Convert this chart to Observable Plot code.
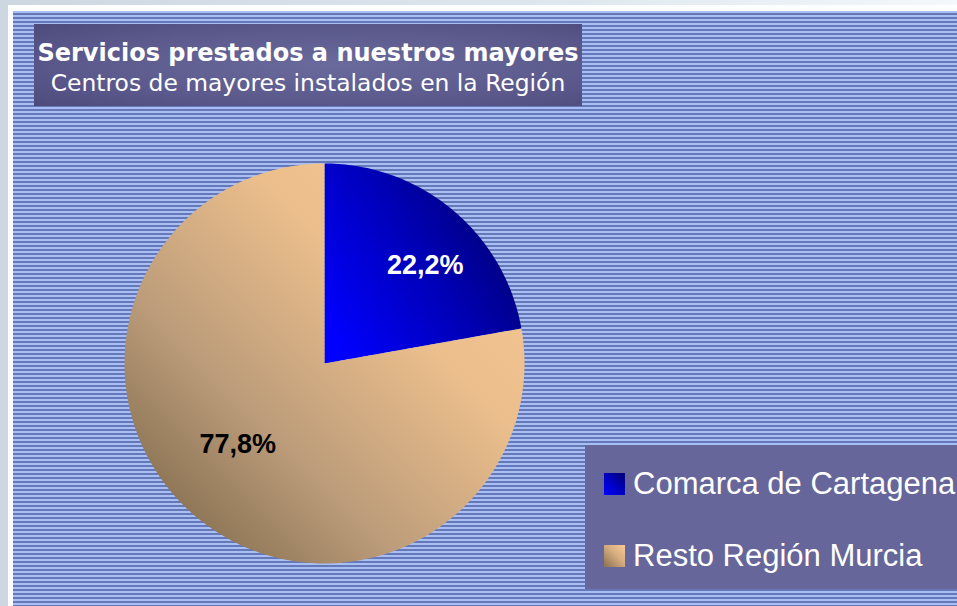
<!DOCTYPE html>
<html><head><meta charset="utf-8">
<script src="https://cdn.jsdelivr.net/npm/d3@7"></script>
<script src="https://cdn.jsdelivr.net/npm/@observablehq/plot@0.6"></script>
<style>
html,body{margin:0;padding:0;width:957px;height:606px;overflow:hidden;background:linear-gradient(to right,#cdd7e1 0%,#dfe7ee 60%,#f4f8fb 100%);}
#frame{position:absolute;left:8px;top:5px;width:949px;height:601px;background:#fdfeff;}
#stripes{position:absolute;left:13px;top:11px;width:944px;height:595px;background:repeating-linear-gradient(to bottom,#a7bff4 0px,#a7bff4 2px,#6678b8 2px,#6678b8 4px);}
#chart{position:absolute;left:0;top:0;width:957px;height:606px;}
#title{position:absolute;left:34px;top:24px;width:548px;height:82px;background:radial-gradient(ellipse at 55% 50%,#6a6a9d 0%,#5c5a8d 60%,#4d4b7b 100%);color:#fff;font-family:"DejaVu Sans",sans-serif;text-align:center;}
#title .l{position:absolute;left:0;width:548px;height:30px;line-height:30px;white-space:nowrap;}
#legend{position:absolute;left:585px;top:445px;width:372px;height:144px;background:#67669a;font-family:"Liberation Sans",Arial,sans-serif;color:#fff;}
#legend .row{position:absolute;left:19px;height:40px;line-height:40px;font-size:31px;white-space:nowrap;}
#legend .sw{display:inline-block;width:21px;height:22px;margin-right:8px;vertical-align:-1px;}
</style></head>
<body>
<svg width="0" height="0" style="position:absolute">
<defs>
<linearGradient id="gBlue" x1="1" y1="0.2" x2="0" y2="0.8">
<stop offset="0" stop-color="#000068"/><stop offset="0.5" stop-color="#0000b8"/><stop offset="1" stop-color="#0000ff"/>
</linearGradient>
<linearGradient id="gTan" x1="1" y1="0" x2="0" y2="1">
<stop offset="0" stop-color="#f7c995"/><stop offset="0.35" stop-color="#ebbe8c"/><stop offset="0.65" stop-color="#bc9c7a"/><stop offset="0.85" stop-color="#907858"/><stop offset="1" stop-color="#6e5a44"/>
</linearGradient>
</defs></svg>
<div id="frame"></div>
<div id="stripes"></div>
<div id="chart"></div>
<div id="title"></div>
<div id="legend"></div>
<script>
const titleText = "Servicios prestados a nuestros mayores";
const subtitleText = "Centros de mayores instalados en la Región";
const categories = ["Comarca de Cartagena", "Resto Región Murcia"];
const shares = [22.2, 77.8];
const fills = ["url(#gBlue)", "url(#gTan)"];
const labelColors = ["#ffffff", "#000000"];

const data = categories.map((name, i) => ({name, value: shares[i]}));
const arcs = d3.pie().sort(null).value(d => d.value)(data);

// polygon points of each slice in unit-circle data space
function slicePoints(a) {
  const pts = [{name: a.data.name, x: 0, y: 0}];
  const n = Math.max(2, Math.ceil((a.endAngle - a.startAngle) / (Math.PI / 180)));
  for (let k = 0; k <= n; k++) {
    const t = a.startAngle + (a.endAngle - a.startAngle) * k / n;
    pts.push({name: a.data.name, x: Math.sin(t), y: Math.cos(t)});
  }
  pts.push({name: a.data.name, x: 0, y: 0});
  return pts;
}

const labelR = [0.707, 0.59];
const labelShift = [[10, 10], [-11, -10]];
const labels = arcs.map((a, i) => {
  const m = (a.startAngle + a.endAngle) / 2;
  return {
    x: labelR[i] * Math.sin(m),
    y: labelR[i] * Math.cos(m),
    text: a.data.value.toFixed(1).replace(".", ",") + "%",
    color: labelColors[i]
  };
});

const chart = Plot.plot({
  width: 957,
  height: 606,
  marginLeft: 124,
  marginRight: 433,
  marginTop: 163,
  marginBottom: 43,
  x: {domain: [-1, 1], axis: null},
  y: {domain: [-1, 1], axis: null},
  style: {background: "transparent", overflow: "visible"},
  marks: [
    ...arcs.map((a, i) => Plot.line(slicePoints(a), {x: "x", y: "y", fill: fills[i], stroke: "none", curve: "linear"})),
    ...labels.map((l, i) => Plot.text([l], {x: "x", y: "y", text: "text", fill: "color", dx: labelShift[i][0], dy: labelShift[i][1], fontSize: 27, fontWeight: "bold", fontFamily: "Liberation Sans, Arial, sans-serif"}))
  ]
});
document.getElementById("chart").appendChild(chart);

// title
const tEl = document.getElementById("title");
[[titleText, "bold", 13.7, 24], [subtitleText, "normal", 43.7, 23.4]].forEach(([s, w, top, fs]) => {
  const d = document.createElement("div");
  d.className = "l"; d.style.top = top + "px"; d.style.fontWeight = w; d.style.fontSize = fs + "px"; d.textContent = s;
  tEl.appendChild(d);
});

// legend
const lEl = document.getElementById("legend");
const swatchBg = ["linear-gradient(225deg,#00006e 0%,#0000c0 50%,#0000ff 100%)", "linear-gradient(225deg,#f7c995 0%,#d6ac80 45%,#8a7052 100%)"];
const rowTops = [19, 91];
categories.forEach((c, i) => {
  const r = document.createElement("div");
  r.className = "row"; r.style.top = rowTops[i] + "px";
  const sw = document.createElement("span"); sw.className = "sw"; sw.style.background = swatchBg[i];
  r.appendChild(sw);
  r.appendChild(document.createTextNode(c));
  lEl.appendChild(r);
});
</script>
</body></html>
